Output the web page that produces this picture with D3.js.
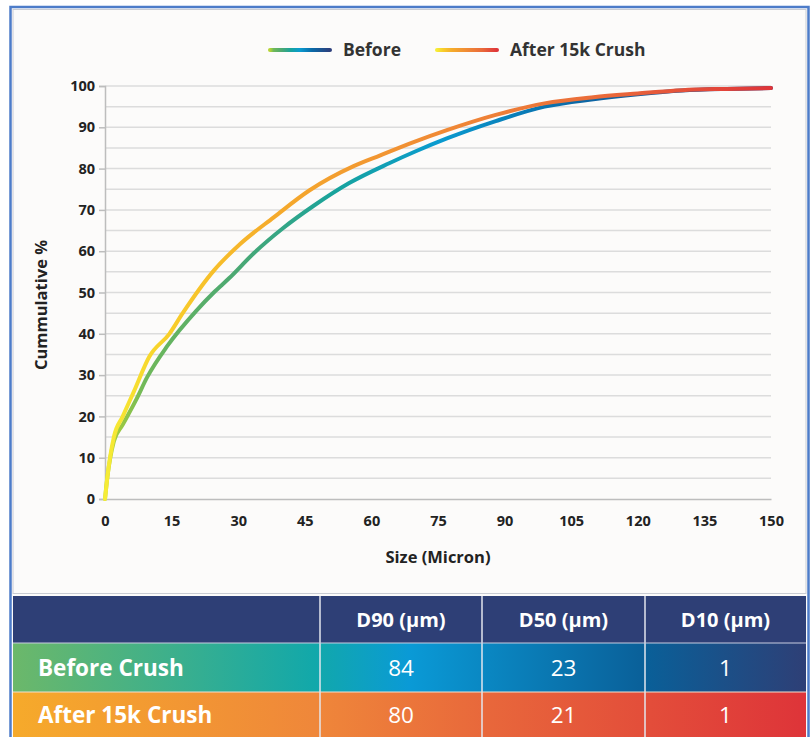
<!DOCTYPE html>
<html>
<head>
    <script src="https://d3js.org/d3.v7.min.js"></script>
    <style>
        body { margin: 0; background: #fff; }
        svg { display: block; }
        text { font-family: "Open Sans", sans-serif; }
    </style>
</head>
<body>
<svg width="811" height="737"></svg>
<script>
    // curve readings (size in micron, cumulative %)
    let beforeSize = [0, 0.5, 2, 4, 7, 9.5, 14, 20.5, 24.5, 28, 33.5, 40, 47, 55, 64, 70, 77, 88, 99, 110, 120, 130, 140, 150];
    let beforePct  = [0, 5, 14, 18, 24, 29.5, 37, 45.5, 50, 53.5, 59.5, 65.5, 71, 76.5, 81.3, 84.2, 87.3, 91.5, 95, 96.8, 98, 98.9, 99.3, 99.5];
    let afterSize  = [0, 0.5, 2, 4, 6.5, 10, 14.5, 17.5, 24.5, 30.5, 38, 46, 56, 62, 69.5, 77, 88, 99, 110, 120, 130, 140, 150];
    let afterPct   = [0, 5, 15, 20, 26, 34.5, 40, 45, 55.3, 61.8, 68.2, 74.7, 80.6, 83.2, 86.4, 89.3, 93, 95.8, 97.3, 98.2, 99, 99.3, 99.5];

    let xTicks = [0, 15, 30, 45, 60, 75, 90, 105, 120, 135, 150];
    let yTicks = [0, 10, 20, 30, 40, 50, 60, 70, 80, 90, 100];

    let seriesNames = ['Before', 'After 15k Crush'];
    let tableCols = ['D90 (µm)', 'D50 (µm)', 'D10 (µm)'];
    let rowLabels = ['Before Crush', 'After 15k Crush'];
    let beforeD = [84, 23, 1];
    let afterD = [80, 21, 1];

    let svg = d3.select('svg');
    let defs = svg.append('defs');

    // frame
    svg.append('rect').attr('x', 10.5).attr('y', 7).attr('width', 798).attr('height', 740)
        .attr('fill', '#fcfbfa').attr('stroke', '#4d7cc9').attr('stroke-width', 2.5);
    svg.append('rect').attr('x', 13).attr('y', 9.5).attr('width', 793).attr('height', 584)
        .attr('fill', 'none').attr('stroke', '#c9ccd3').attr('stroke-width', 1);

    let margin = {left: 105, right: 40, top: 86, bottom: 238};
    let width = 771 - margin.left;
    let height = 499 - margin.top;
    let g = svg.append('g').attr('transform', `translate(${margin.left}, ${margin.top})`);

    let x = d3.scaleLinear().domain([0, 150]).range([0, width]);
    let y = d3.scaleLinear().domain([0, 100]).range([height, 0]);

    // gridlines every 5
    g.append('g').selectAll('line')
        .data(y.ticks(20).filter(d => d > 0))
        .join('line')
        .attr('x1', 0).attr('x2', width)
        .attr('y1', d => y(d)).attr('y2', d => y(d))
        .attr('stroke', '#dcdcdc').attr('stroke-width', 1.5);

    let yAxis = g.append('g').call(d3.axisLeft(y).tickValues(yTicks).tickSize(6).tickPadding(4));
    yAxis.select('.domain').attr('stroke', '#bdbdbd').attr('stroke-width', 1.5);
    yAxis.selectAll('.tick line').attr('stroke', '#bdbdbd').attr('stroke-width', 1.5);
    yAxis.selectAll('.tick text').attr('font-size', 14.5).attr('font-weight', 700).attr('fill', '#222');

    let xAxis = g.append('g').attr('transform', `translate(0,${height})`)
        .call(d3.axisBottom(x).tickValues(xTicks).tickSize(0).tickPadding(17));
    xAxis.select('.domain').attr('stroke', '#bdbdbd').attr('stroke-width', 1.5);
    xAxis.selectAll('.tick text').attr('font-size', 14.5).attr('font-weight', 700).attr('fill', '#222');

    svg.append('text').attr('x', 438).attr('y', 563).attr('text-anchor', 'middle')
        .attr('font-size', 16.5).attr('font-weight', 700).attr('fill', '#222').text('Size (Micron)');
    svg.append('text').attr('transform', 'translate(47,305) rotate(-90)').attr('text-anchor', 'middle')
        .attr('font-size', 16.5).attr('font-weight', 700).attr('fill', '#222').text('Cummulative %');

    // gradients
    function grad(id, stops, x1, x2) {
        let lg = defs.append('linearGradient').attr('id', id)
            .attr('gradientUnits', 'userSpaceOnUse')
            .attr('x1', x1).attr('x2', x2).attr('y1', 0).attr('y2', 0);
        lg.selectAll('stop').data(stops).join('stop')
            .attr('offset', d => d[0]).attr('stop-color', d => d[1]);
    }
    let beforeStops = [[0, '#b5d334'], [0.06, '#6fb85a'], [0.2, '#4aa873'], [0.35, '#17a39e'], [0.5, '#0a9bd0'], [0.7, '#0a6aa8'], [1, '#2d3f7c']];
    let afterStops = [[0, '#f6ec35'], [0.1, '#f8cd2a'], [0.25, '#f5ab2b'], [0.5, '#f08a35'], [0.75, '#ea6a3a'], [1, '#df3539']];
    grad('gBefore', beforeStops, 0, width);
    grad('gAfter', afterStops, 0, width);
    grad('lBefore', beforeStops, 270, 330);
    grad('lAfter', afterStops, 437, 497);

    let line = d3.line().x(d => x(d[0])).y(d => y(d[1])).curve(d3.curveMonotoneX);
    let beforeData = beforeSize.map((s, i) => [s, beforePct[i]]);
    let afterData = afterSize.map((s, i) => [s, afterPct[i]]);

    g.append('path').datum(beforeData).attr('d', line).attr('fill', 'none')
        .attr('stroke', 'url(#gBefore)').attr('stroke-width', 4).attr('stroke-linecap', 'round');
    g.append('path').datum(afterData).attr('d', line).attr('fill', 'none')
        .attr('stroke', 'url(#gAfter)').attr('stroke-width', 4).attr('stroke-linecap', 'round');

    // legend
    let legend = [[270, 'url(#lBefore)', 343], [437, 'url(#lAfter)', 510]];
    legend.forEach((l, i) => {
        svg.append('line').attr('x1', l[0]).attr('x2', l[0] + 60).attr('y1', 50).attr('y2', 50)
            .attr('stroke', l[1]).attr('stroke-width', 4).attr('stroke-linecap', 'round');
        svg.append('text').attr('x', l[2]).attr('y', 56).attr('font-size', 17.5).attr('font-weight', 700)
            .attr('fill', '#333').text(seriesNames[i]);
    });

    // table
    let colEdges = [13, 320, 482, 645, 806];
    let rowEdges = [596, 643, 692, 737];
    svg.append('rect').attr('x', 13).attr('y', 596).attr('width', 793).attr('height', 47).attr('fill', '#2e3f76');
    grad('rowBefore', [[0, '#6cb86a'], [0.38, '#12a8aa'], [0.5, '#0a9ad6'], [0.8, '#0a5f98'], [1, '#2e3f76']], 13, 806);
    grad('rowAfter', [[0, '#f6aa2b'], [0.38, '#ef873a'], [0.6, '#e8673b'], [1, '#de3439']], 13, 806);
    svg.append('rect').attr('x', 13).attr('y', 643).attr('width', 793).attr('height', 49).attr('fill', 'url(#rowBefore)');
    svg.append('rect').attr('x', 13).attr('y', 692).attr('width', 793).attr('height', 45).attr('fill', 'url(#rowAfter)');

    svg.selectAll('.hdr').data(tableCols).join('text')
        .attr('x', (d, i) => (colEdges[i + 1] + colEdges[i + 2]) / 2).attr('y', 627)
        .attr('text-anchor', 'middle').attr('font-size', 20).attr('font-weight', 700)
        .attr('fill', '#fff').text(d => d);

    [beforeD, afterD].forEach((vals, r) => {
        let cy = (rowEdges[r + 1] + rowEdges[r + 2]) / 2 + 8;
        svg.append('text').attr('x', 38).attr('y', cy).attr('font-size', 22.5).attr('font-weight', 700)
            .attr('fill', '#fff').text(rowLabels[r]);
        svg.append('g').selectAll('text').data(vals).join('text')
            .attr('x', (d, i) => (colEdges[i + 1] + colEdges[i + 2]) / 2).attr('y', cy)
            .attr('text-anchor', 'middle').attr('font-size', 22.5)
            .attr('fill', '#fff').text(d => d);
    });

    svg.append('g').selectAll('line').data(colEdges.slice(1, 4)).join('line')
        .attr('x1', d => d).attr('x2', d => d).attr('y1', 596).attr('y2', 737)
        .attr('stroke', '#e3e6ee').attr('stroke-width', 1.5);
    svg.append('line').attr('x1', 13).attr('x2', 806).attr('y1', 643).attr('y2', 643)
        .attr('stroke', '#c8cde0').attr('stroke-width', 1);
    svg.append('line').attr('x1', 13).attr('x2', 806).attr('y1', 692).attr('y2', 692)
        .attr('stroke', '#f1e0d0').attr('stroke-width', 1);
</script>
</body>
</html>
